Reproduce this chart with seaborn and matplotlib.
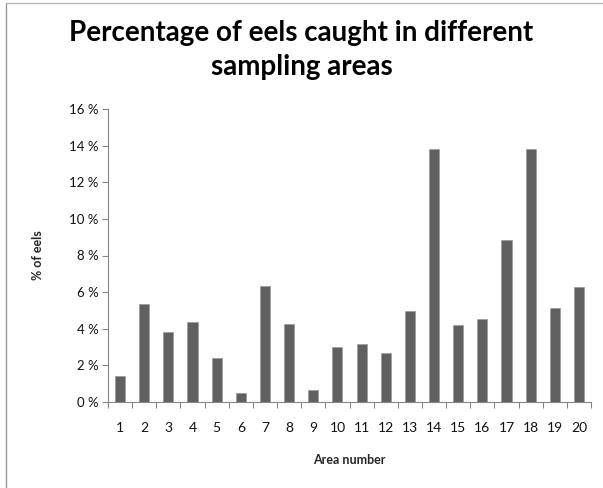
import matplotlib
matplotlib.use("Agg")
import matplotlib.pyplot as plt
import seaborn as sns
import pandas as pd
import numpy as np
from matplotlib.ticker import FixedLocator, FuncFormatter
from matplotlib.lines import Line2D

areas = [str(i) for i in range(1, 21)]
percent = [1.41, 5.36, 3.81, 4.38, 2.41, 0.47, 6.35, 4.25, 0.64, 2.99,
           3.16, 2.66, 4.98, 13.83, 4.20, 4.53, 8.83, 13.83, 5.15, 6.30]
yticks = [0, 2, 4, 6, 8, 10, 12, 14, 16]

df = pd.DataFrame({"area": areas, "pct": percent})

sns.set_theme(style="white")
plt.rcParams['font.family'] = ['Lato', 'DejaVu Sans']

W, H = 603, 488
fig = plt.figure(figsize=(W/100, H/100), dpi=100)
ax = fig.add_axes([108/W, 1-402/H, (591-108)/W, (402-109)/H])

sns.barplot(data=df, x="area", y="pct", color="#606060", saturation=1,
            width=0.42, ax=ax, edgecolor="#9a9a9a", linewidth=0.5)

ax.set_ylim(0, 16)
ax.set_xlim(-0.5, 19.5)
ax.set_yticks(yticks)
ax.yaxis.set_major_formatter(FuncFormatter(lambda v, p: f"{int(v)} %"))
ax.tick_params(axis="y", length=4, width=0.8, color="#868686", direction="out",
               labelsize=9.5, pad=3, left=True, labelcolor="#111111")
ax.tick_params(axis="x", which="major", length=0, labelsize=10, pad=14.5,
               labelcolor="#111111")
ax.xaxis.set_minor_locator(FixedLocator(np.arange(-0.5, 20, 1)))
ax.tick_params(axis="x", which="minor", length=4, width=0.8, color="#868686",
               direction="out", bottom=True)
for s in ["top", "right"]:
    ax.spines[s].set_visible(False)
for s in ["left", "bottom"]:
    ax.spines[s].set_color("#868686")
    ax.spines[s].set_linewidth(0.8)

ax.set_xlabel("Area number", fontsize=9, fontweight="bold", labelpad=14)
ax.set_ylabel("% of eels", fontsize=9, fontweight="bold", labelpad=18)

fig.text(0.5, 1-33/H, "Percentage of eels caught in different",
         ha="center", va="center", fontsize=20, fontweight="bold", color="black")
fig.text(0.5, 1-67/H, "sampling areas",
         ha="center", va="center", fontsize=20, fontweight="bold", color="black")

# chart frame: left and top edges visible
fig.add_artist(Line2D([6/W, 6/W], [0, 1-2.5/H], transform=fig.transFigure,
                      color="#9a9a9a", linewidth=1))
fig.add_artist(Line2D([6/W, 1], [1-2.5/H, 1-2.5/H], transform=fig.transFigure,
                      color="#b8b8b8", linewidth=1))

fig.savefig("out.png", dpi=100)
